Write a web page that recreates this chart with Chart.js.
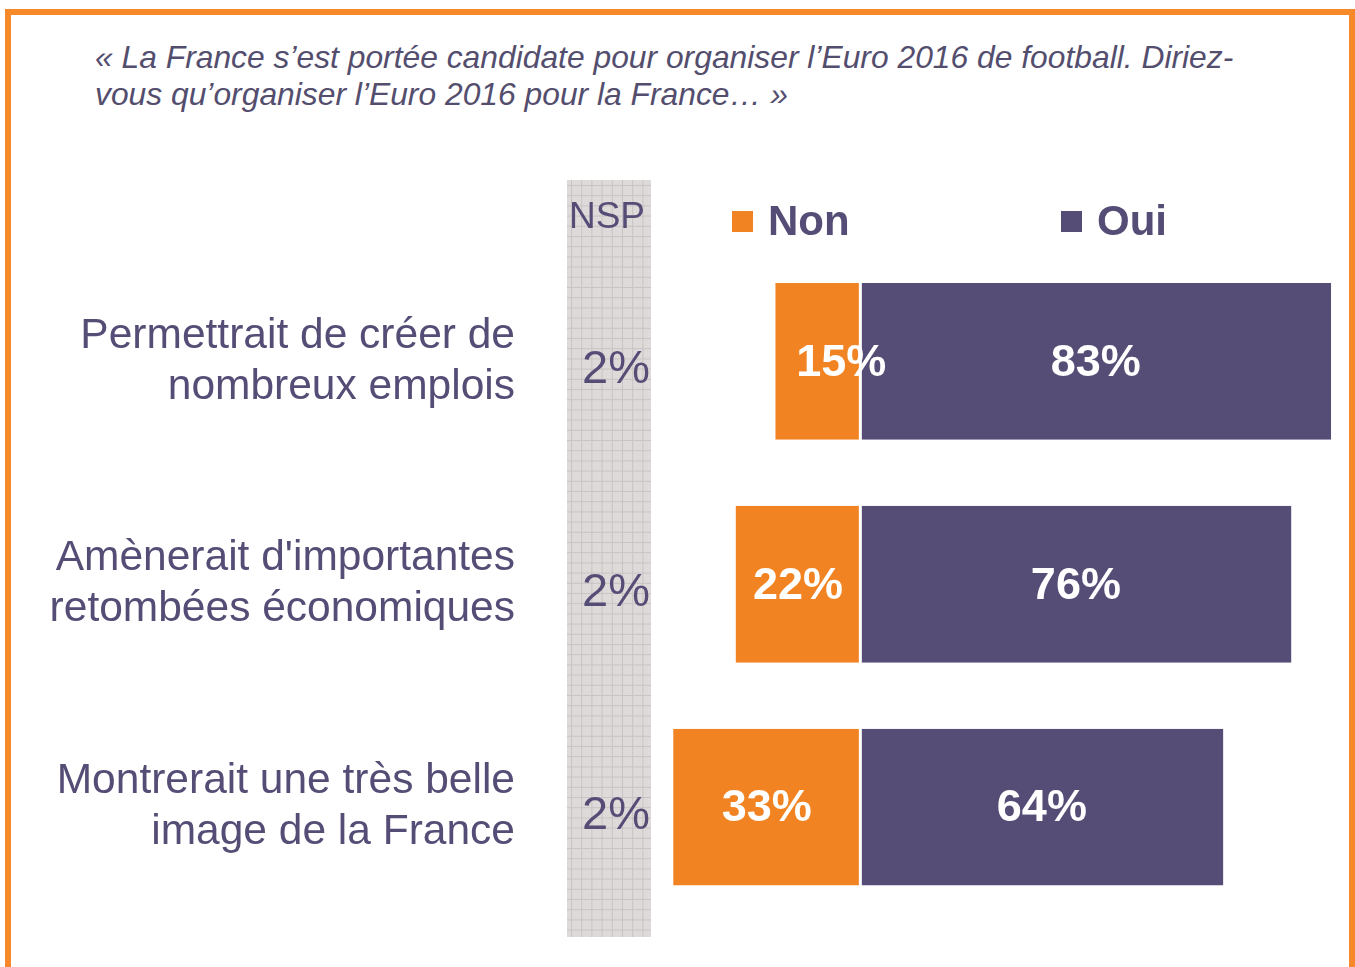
<!DOCTYPE html>
<html lang="fr">
<head>
<meta charset="utf-8">
<title>Euro 2016</title>
<script src="https://cdn.jsdelivr.net/npm/chart.js@4.4.1/dist/chart.umd.min.js"></script>
<style>
    html, body { margin: 0; padding: 0; background: #fff; }
    body { width: 1355px; height: 967px; position: relative; overflow: hidden; font-family: "Liberation Sans", Arial, sans-serif; }
    .cadre { position: absolute; left: 5px; top: 9px; width: 1338px; height: 980px; border: 6px solid #F7892A; }
    .question { position: absolute; left: 95px; top: 39px; width: 1240px; font-size: 31.8px; line-height: 37px; font-style: italic; color: #544E6E; white-space: nowrap; }
    #chart { position: absolute; left: 0; top: 0; }
</style>
</head>
<body>
<div class="cadre"></div>
<div class="question">« La France s’est portée candidate pour organiser l’Euro 2016 de football. Diriez-<br>vous qu’organiser l’Euro 2016 pour la France… »</div>
<canvas id="chart" width="1355" height="967"></canvas>
<script>
// Donnees du graphique
const categories = [
    ['Permettrait de créer de', 'nombreux emplois'],
    ["Amènerait d'importantes", 'retombées économiques'],
    ['Montrerait une très belle', 'image de la France']
];
const nonValues = [15, 22, 33];
const ouiValues = [83, 76, 64];
const nspValues = [2, 2, 2];
const nspLabel = 'NSP';

const ORANGE = '#F28322';
const VIOLET = '#564D76';
const TEXTE = '#564D76';

// Colonne NSP + legende + etiquettes
const decorPlugin = {
    id: 'decor',
    beforeDatasetsDraw(chart) {
        const ctx = chart.ctx;
        const yScale = chart.scales.y;
        const x0 = 567, x1 = 651, y0 = 180, y1 = 937;
        ctx.save();
        ctx.fillStyle = '#DEDADA';
        ctx.fillRect(x0, y0, x1 - x0, y1 - y0);
        ctx.strokeStyle = '#C9C4C4';
        ctx.lineWidth = 1;
        ctx.beginPath();
        for (let x = x0 + 4.5; x < x1; x += 10.2) {
            ctx.moveTo(x, y0); ctx.lineTo(x, y1);
        }
        for (let y = y0 + 5.5; y < y1; y += 10.2) {
            ctx.moveTo(x0, y); ctx.lineTo(x1, y);
        }
        ctx.stroke();

        ctx.fillStyle = TEXTE;
        ctx.textAlign = 'center';
        ctx.textBaseline = 'middle';
        ctx.font = '37px "Liberation Sans", Arial, sans-serif';
        ctx.fillText(nspLabel, 607, 218);
        ctx.font = '47px "Liberation Sans", Arial, sans-serif';
        nspValues.forEach((v, i) => {
            ctx.fillText(v + '%', 616, yScale.getPixelForValue(i) + 9);
        });

        // legende
        const legendPos = [[732, 768], [1061, 1097]];
        ctx.textAlign = 'left';
        ctx.font = 'bold 42px "Liberation Sans", Arial, sans-serif';
        chart.data.datasets.forEach((ds, i) => {
            const p = legendPos[i];
            ctx.fillStyle = ds.backgroundColor;
            ctx.fillRect(p[0], 211, 21, 21);
            ctx.fillStyle = TEXTE;
            ctx.fillText(ds.label, p[1], 223);
        });
        ctx.restore();
    },
    afterDatasetsDraw(chart) {
        const ctx = chart.ctx;
        ctx.save();
        ctx.font = 'bold 45px "Liberation Sans", Arial, sans-serif';
        ctx.fillStyle = '#fff';
        ctx.textBaseline = 'middle';
        chart.data.datasets.forEach((ds, d) => {
            const meta = chart.getDatasetMeta(d);
            meta.data.forEach((bar, i) => {
                const txt = Math.abs(ds.data[i]) + '%';
                const left = Math.min(bar.x, bar.base);
                const right = Math.max(bar.x, bar.base);
                const w = ctx.measureText(txt).width;
                if (w > (right - left) * 0.9) {
                    ctx.textAlign = 'left';
                    ctx.fillText(txt, left + 21, bar.y + 2);
                } else {
                    ctx.textAlign = 'center';
                    ctx.fillText(txt, (left + right) / 2, bar.y + 2);
                }
            });
        });
        ctx.restore();
    }
};

new Chart(document.getElementById('chart'), {
    type: 'bar',
    data: {
        labels: categories,
        datasets: [{
            label: 'Non',
            data: nonValues.map(v => -v),
            backgroundColor: ORANGE,
            borderColor: '#fff',
            borderWidth: { left: 0, right: 1.5, top: 0, bottom: 0 },
            borderSkipped: false
        }, {
            label: 'Oui',
            data: ouiValues,
            backgroundColor: VIOLET,
            borderColor: '#fff',
            borderWidth: { left: 1.5, right: 0, top: 0, bottom: 0 },
            borderSkipped: false
        }]
    },
    options: {
        indexAxis: 'y',
        responsive: false,
        animation: false,
        barPercentage: 0.704,
        categoryPercentage: 1,
        layout: {
            padding: { left: 0, right: 12.5, top: 250, bottom: 48.5 }
        },
        plugins: {
            legend: { display: false },
            tooltip: { enabled: false }
        },
        scales: {
            x: {
                display: false,
                stacked: true,
                min: -60,
                max: 85
            },
            y: {
                stacked: true,
                grid: { display: false, drawTicks: false },
                border: { display: false },
                ticks: {
                    padding: 5,
                    color: TEXTE,
                    font: { family: '"Liberation Sans", Arial, sans-serif', size: 42.5, lineHeight: 1.2 }
                },
                afterFit: function(scale) {
                    scale.width = 520;
                    scale.paddingTop = 0;
                    scale.paddingBottom = 0;
                }
            }
        }
    },
    plugins: [decorPlugin]
});
</script>
</body>
</html>
